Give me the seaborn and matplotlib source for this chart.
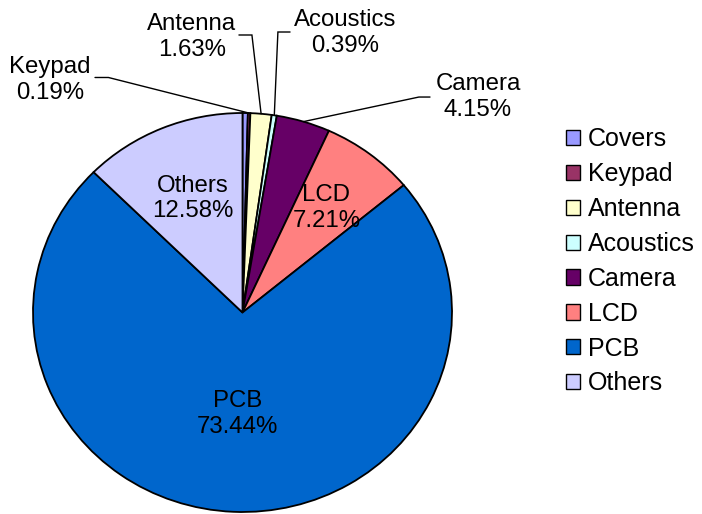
import matplotlib
matplotlib.use("Agg")
import matplotlib.pyplot as plt
from matplotlib.patches import Patch
import numpy as np
import seaborn as sns

# Component cost share (%)
components = ["Covers", "Keypad", "Antenna", "Acoustics", "Camera", "LCD", "PCB", "Others"]
shares = [0.41, 0.19, 1.63, 0.39, 4.15, 7.21, 73.44, 12.58]
colors = ["#9999FF", "#993366", "#FFFFCC", "#CCFFFF", "#660066", "#FF8080", "#0066CC", "#CCCCFF"]

sns.set_theme(style="white")
plt.rcParams["font.family"] = ["Liberation Sans", "DejaVu Sans"]
plt.rcParams["text.color"] = "black"
FS = 17.3
LEG_FS = 18

W, H = 702, 514
fig = plt.figure(figsize=(W / 100, H / 100), dpi=100)
# pie bounding box in pixels: x 33..452, y 113..512
ax = fig.add_axes([33 / W, (H - 512) / H, 419 / W, 399 / H])

wedges, _ = ax.pie(
    shares, colors=colors, startangle=90, counterclock=False, radius=1,
    wedgeprops=dict(edgecolor="black", linewidth=1.3),
)
ax.set_aspect("auto")
ax.set_xlim(-1, 1)
ax.set_ylim(-1, 1)
ax.axis("off")

# mid-angle of every slice (clockwise from 12 o'clock)
cum = np.cumsum([0] + shares)
total = cum[-1]
mid = [(cum[i] + shares[i] / 2) / total * 2 * np.pi for i in range(len(shares))]

def lab(i):
    return f"{components[i]}\n{shares[i]:.2f}%"

# labels inside the large slices
inside = {5: 0.66, 6: 0.51, 7: 0.62}
for i, r in inside.items():
    ax.text(r * np.sin(mid[i]), r * np.cos(mid[i]), lab(i), ha="center", va="center",
            fontsize=FS, color="black", linespacing=1.2)

# labels outside with leader lines: (text pos), (elbow start, elbow end), elbow height
outside = {
    1: ((-0.919, 1.165), (-0.704, -0.640), 1.178),
    2: ((-0.241, 1.381), (-0.017, 0.045), 1.391),
    3: ((0.489, 1.401), (0.227, 0.169), 1.406),
    4: ((1.124, 1.080), (0.895, 0.842), 1.080),
}
for i, (tpos, (x0, x1), ly) in outside.items():
    ax.text(tpos[0], tpos[1], lab(i), ha="center", va="center", fontsize=FS,
            color="black", linespacing=1.2, clip_on=False)
    ex, ey = np.sin(mid[i]), np.cos(mid[i])
    ax.plot([x0, x1, ex], [ly, ly, ey], color="black", lw=1.0, clip_on=False,
            solid_joinstyle="miter")

handles = [Patch(facecolor=c, edgecolor="black", linewidth=1.0) for c in colors]
leg = fig.legend(
    handles, components, loc="upper left", bbox_to_anchor=(566 / W, 1 - 127.5 / H),
    frameon=False, fontsize=LEG_FS, handlelength=0.56, handleheight=0.56,
    handletextpad=0.32, labelspacing=0.434, borderaxespad=0, borderpad=0,
)
for t in leg.get_texts():
    t.set_color("black")

fig.savefig("out.png", dpi=100)
